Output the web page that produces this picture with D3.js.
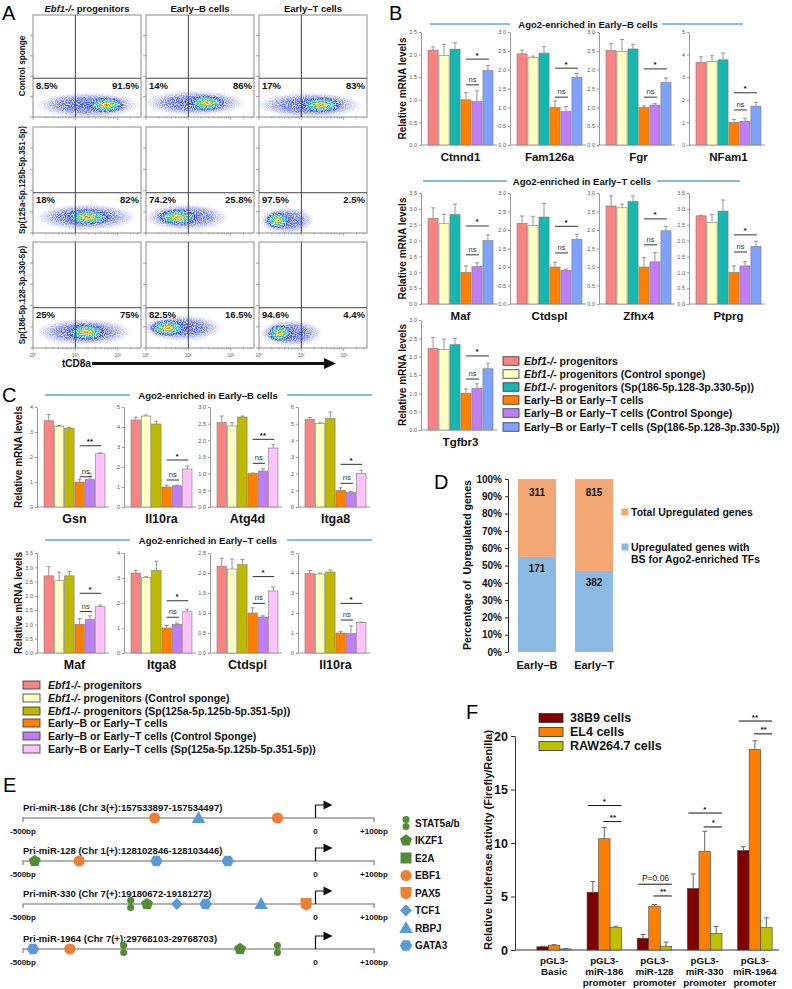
<!DOCTYPE html>
<html><head><meta charset="utf-8">
<script src="https://cdn.jsdelivr.net/npm/d3@7"></script>
<style>body{margin:0;background:#fff}svg{display:block}</style>
</head><body><script>
const FONT='"Liberation Sans", Arial, Helvetica, sans-serif';

// ================= DATA =================
// Panel A (flow cytometry)
const flowColItalic=["Ebf1-/-","",""];
const flowColText=[" progenitors","Early–B cells","Early–T cells"];
const flowRowLabels=["Control sponge","Sp(125a-5p.125b-5p.351-5p)","Sp(186-5p.128-3p.330-5p)"];
const flowPctLeft=[["8.5%","14%","17%"],["18%","74.2%","97.5%"],["25%","82.5%","94.6%"]];
const flowPctRight=[["91.5%","86%","83%"],["82%","25.8%","2.5%"],["75%","16.5%","4.4%"]];
const flowCoreX=[[1.73,1.43,1.46],[1.29,0.75,0.44],[1.26,0.52,0.49]];
const flowCoreSpread=[[0.45,0.45,0.5],[0.55,0.5,0.3],[0.5,0.45,0.3]];
const flowHaloX=[[1.3,1.15,1.2],[1.25,0.95,0.65],[1.2,0.85,0.75]];
const flowHaloSpread=[[1.25,1.2,1.25],[1.2,1.0,0.65],[1.15,0.95,0.75]];
const flowCloudY=[[118,137,118],[150,150,120],[150,190,140]];
const flowGateX=10, flowGateY=380;
const flowXTickVals=[1,10,100];
const flowXTickLabels=["10⁰","10¹","10²"];

// Panel B
const bTitles=["Ago2-enriched in Early–B cells","Ago2-enriched in Early–T cells"];
const bGenes=["Ctnnd1","Fam126a","Fgr","NFam1","Maf","Ctdspl","Zfhx4","Ptprg","Tgfbr3"];
const bMeans=[
 [2.10,1.98,2.12,1.00,0.96,1.65],
 [2.42,2.32,2.44,1.00,0.89,1.80],
 [2.51,2.48,2.55,1.00,1.06,1.66],
 [3.65,3.70,3.77,1.00,1.05,1.72],
 [2.70,2.53,2.82,1.00,1.18,2.00],
 [2.18,2.12,2.35,1.00,0.91,1.75],
 [2.65,2.60,2.77,1.00,1.14,1.98],
 [2.78,2.57,2.93,1.00,1.20,1.82],
 [2.22,2.20,2.33,1.00,1.14,1.67]];
const bErrors=[
 [0.07,0.25,0.14,0.16,0.24,0.11],
 [0.10,0.04,0.17,0.17,0.13,0.10],
 [0.18,0.32,0.12,0.04,0.04,0.12],
 [0.25,0.25,0.30,0.13,0.13,0.17],
 [0.33,0.30,0.33,0.20,0.12,0.18],
 [0.20,0.25,0.37,0.13,0.03,0.13],
 [0.27,0.10,0.15,0.25,0.25,0.12],
 [0.02,0.25,0.35,0.20,0.13,0.16],
 [0.30,0.28,0.17,0.12,0.12,0.15]];
const bYMax=[2.5,3,3,5,3.5,3,3,3.5,3];
const bYStep=[0.5,0.5,0.5,1,0.5,0.5,0.5,0.5,0.5];
const bSigText=["*","*","*","*","*","*","*","*","*"];
const bSigLevel=[1.90,2.04,2.02,2.31,2.46,2.10,2.30,2.18,2.02];
const bNsLevel=[1.33,1.27,1.27,1.55,1.55,1.38,1.60,1.64,1.39];
const bColors=["#f98383","#ffffc4","#15b7af","#ff8000","#c07ef6","#7fa2ff"];
const bLegendItalic=["Ebf1-/-","Ebf1-/-","Ebf1-/-","","",""];
const bLegendText=[" progenitors"," progenitors (Control sponge)"," progenitors (Sp(186-5p.128-3p.330-5p))","Early–B or Early–T cells","Early–B or Early–T cells (Control Sponge)","Early–B or Early–T cells (Sp(186-5p.128-3p.330-5p))"];

// Panel C
const cTitles=["Ago2-enriched in Early–B cells","Ago2-enriched in Early–T cells"];
const cGenes=["Gsn","Il10ra","Atg4d","Itga8","Maf","Itga8","Ctdspl","Il10ra"];
const cMeans=[
 [3.45,3.23,3.15,1.00,1.10,2.13],
 [4.35,4.55,4.15,1.00,1.06,1.90],
 [2.53,2.43,2.70,1.00,1.08,1.77],
 [5.25,5.00,5.30,1.00,0.87,2.02],
 [2.70,2.53,2.70,1.00,1.17,1.62],
 [3.20,3.03,3.30,1.00,1.15,1.65],
 [2.17,2.10,2.21,1.00,0.90,1.55],
 [3.97,3.95,4.05,1.00,0.97,1.52]];
const cErrors=[
 [0.25,0.03,0.03,0.12,0.25,0.04],
 [0.14,0.05,0.14,0.10,0.03,0.15],
 [0.20,0.10,0.03,0.02,0.07,0.10],
 [0.12,0.05,0.40,0.15,0.05,0.18],
 [0.32,0.30,0.15,0.20,0.13,0.06],
 [0.10,0.02,0.37,0.10,0.05,0.10],
 [0.20,0.25,0.13,0.13,0.03,0.10],
 [0.15,0.05,0.10,0.08,0.38,0.03]];
const cYMax=[4,5,3,6,3.5,4,2.5,5];
const cYStep=[1,1,0.5,1,0.5,1,0.5,1];
const cSigText=["**","*","**","*","*","*","*","*"];
const cSigLevel=[2.45,2.35,2.03,2.56,2.09,2.09,1.91,2.48];
const cNsLevel=[1.21,1.35,1.31,1.42,1.45,1.43,1.24,1.65];
const cColors=["#f98383","#ffffc4","#bdb900","#ff8000","#c07ef6","#ffc2fb"];
const cLegendItalic=["Ebf1-/-","Ebf1-/-","Ebf1-/-","","",""];
const cLegendText=[" progenitors"," progenitors (Control sponge)"," progenitors (Sp(125a-5p.125b-5p.351-5p))","Early–B or Early–T cells","Early–B or Early–T cells (Control Sponge)","Early–B or Early–T cells (Sp(125a-5p.125b-5p.351-5p))"];

// Panel D
const dGroups=["Early–B","Early–T"];
const dTotal=[311,815];
const dWithBS=[171,382];
const dColors=["#f3a775","#8dbae3"];
const dLegend=["Total Upregulated genes",["Upregulated genes with","BS for Ago2-enriched TFs"]];

// Panel E
const eTitles=["Pri-miR-186 (Chr 3(+):157533897-157534497)","Pri-miR-128 (Chr 1(+):128102846-128103446)","Pri-miR-330 (Chr 7(+):19180672-19181272)","Pri-miR-1964 (Chr 7(+):29768103-29768703)"];
const eSiteTF=[["EBF1","RBPJ","EBF1"],["IKZF1","EBF1","GATA3","GATA3"],["STAT5a/b","IKZF1","TCF1","GATA3","RBPJ","PAX5"],["GATA3","EBF1","STAT5a/b","IKZF1","STAT5a/b"]];
const eSiteBp=[[-275,-200,-65],[-480,-404,-272,-150],[-316,-288,-237,-188,-93,-16],[-483,-420,-328,-129,-65]];
const eTFs=["STAT5a/b","IKZF1","E2A","EBF1","PAX5","TCF1","RBPJ","GATA3"];
const eTFShapes=["dumbbell","pentagon","square","circle","shield","diamond","triangle","hexagon"];
const eTFColors=["#558a35","#558a35","#558a35","#ee7e33","#ee7e33","#5b9bd5","#5b9bd5","#5b9bd5"];
const eTickVals=[-500,0,100];
const eTickLabels=["-500bp","0","+100bp"];

// Panel F
const fGroupLabels=[["pGL3-","Basic"],["pGL3-","miR-186","promoter"],["pGL3-","miR-128","promoter"],["pGL3-","miR-330","promoter"],["pGL3-","miR-1964","promoter"]];
const fSeries=["38B9 cells","EL4 cells","RAW264.7 cells"];
const fColors=["#7f0000","#ff8000","#bfbf00"];
const fMeans38B9=[0.30,5.40,1.10,5.75,9.30];
const fErr38B9=[0.05,1.00,0.35,1.35,0.35];
const fMeansEL4=[0.45,10.40,4.10,9.20,18.75];
const fErrEL4=[0.05,1.05,0.15,1.90,0.80];
const fMeansRAW=[0.10,2.10,0.35,1.55,2.10];
const fErrRAW=[0.03,0.12,0.40,0.65,0.90];
const fYTicks=[0,5,10,15,20];
const fSigLongText=["","*","P=0.06","*","**"];
const fSigLongLevel=[0,13.5,6.15,12.8,21.4];
const fSigShortText=["","**","**","*","**"];
const fSigShortLevel=[0,12.0,5.05,11.5,20.2];

// ================= DRAWING =================
const svg=d3.select("body").append("svg").attr("width",792).attr("height",989)
  .style("font-family",FONT);
svg.append("rect").attr("width",792).attr("height",989).attr("fill","#fff");
const defs=svg.append("defs");

function grad(id,stops){
  const g=defs.append("radialGradient").attr("id",id);
  stops.forEach(s=>g.append("stop").attr("offset",s[0]).attr("stop-color",s[1]).attr("stop-opacity",s[2]));
}
grad("gCore",[[0,"#d8241c",1],[0.16,"#f2c81e",1],[0.36,"#4cbf3c",1],[0.58,"#1fc4de",0.95],[0.8,"#2a3cf0",0.85],[1,"#3040ff",0]]);
grad("gHalo",[[0,"#2236ee",0.95],[0.55,"#3146f2",0.7],[1,"#6a78ff",0]]);
const grain=defs.append("filter").attr("id","grain");
grain.append("feTurbulence").attr("type","fractalNoise").attr("baseFrequency",0.9).attr("numOctaves",1).attr("seed",4).attr("result","n");
grain.append("feColorMatrix").attr("in","n").attr("type","matrix")
  .attr("values","0 0 0 0 1  0 0 0 0 1  0 0 0 0 1  0 0 0 3.2 -0.9").attr("result","m");
grain.append("feComposite").attr("in","SourceGraphic").attr("in2","m").attr("operator","in");

function T(g,x,y,s,o={}){
  const t=g.append("text").attr("x",x).attr("y",y).text(s)
    .attr("font-size",o.size||10).attr("font-weight",o.weight||"bold")
    .attr("text-anchor",o.anchor||"start").attr("fill",o.fill||"#111");
  if(o.style) t.attr("font-style",o.style);
  return t;
}
function richT(g,x,y,ital,rest,o={}){
  const t=g.append("text").attr("x",x).attr("y",y).attr("font-size",o.size||10)
    .attr("font-weight","bold").attr("text-anchor",o.anchor||"start").attr("fill","#111");
  if(ital) t.append("tspan").attr("font-style","italic").text(ital);
  t.append("tspan").text(rest);
  return t;
}
function vText(g,x,y,s,size){
  return g.append("text").attr("transform",`translate(${x},${y}) rotate(-90)`)
    .attr("text-anchor","middle").attr("font-size",size).attr("font-weight","bold").attr("fill","#111").text(s);
}

// Panel letters
[["A",2,20],["B",389,20],["C",2,402],["D",434,489],["E",3,792],["F",466,719]].forEach(l=>
  T(svg,l[1],l[2],l[0],{size:20,weight:"normal",fill:"#000"}));

// ---------- Panel A ----------
const aColX=[33,146,259], aW=108, aRowY=[15,127,242], aRowH=[102,106,106];
const aG=svg.append("g");
flowColText.forEach((t,c)=>richT(aG,aColX[c]+aW/2,12,flowColItalic[c],t,{size:9.5,anchor:"middle"}));
flowRowLabels.forEach((lab,r)=>{
  const y0=aRowY[r], h=aRowH[r];
  vText(aG,25,y0+h/2,lab,8.2);
  flowColText.forEach((_,c)=>{
    const x0=aColX[c];
    const xs=d3.scaleLog().domain([1,Math.pow(10,2.55)]).range([x0,x0+aW]);
    const ys=d3.scaleLinear().domain([0,1000]).range([y0+h,y0]);
    const dec=xs(10)-xs(1);
    const clipId=`clipA${r}${c}`;
    defs.append("clipPath").attr("id",clipId).append("rect").attr("x",x0).attr("y",y0).attr("width",aW).attr("height",h);
    const cloud=aG.append("g").attr("clip-path",`url(#${clipId})`).append("g").attr("filter","url(#grain)");
    cloud.append("ellipse").attr("cx",xs(Math.pow(10,flowHaloX[r][c]))).attr("cy",ys(flowCloudY[r][c]))
      .attr("rx",flowHaloSpread[r][c]*dec).attr("ry",h*0.125).attr("fill","url(#gHalo)");
    cloud.append("ellipse").attr("cx",xs(Math.pow(10,flowCoreX[r][c]))).attr("cy",ys(flowCloudY[r][c]))
      .attr("rx",flowCoreSpread[r][c]*dec).attr("ry",h*0.08).attr("fill","url(#gCore)");
    aG.append("rect").attr("x",x0).attr("y",y0).attr("width",aW).attr("height",h)
      .attr("fill","none").attr("stroke","#8a8a8a").attr("stroke-width",1);
    aG.append("line").attr("x1",xs(flowGateX)).attr("x2",xs(flowGateX)).attr("y1",y0).attr("y2",y0+h).attr("stroke","#444");
    aG.append("line").attr("x1",x0).attr("x2",x0+aW).attr("y1",ys(flowGateY)).attr("y2",ys(flowGateY)).attr("stroke","#444");
    [0,200,400,600,800].forEach(v=>aG.append("line").attr("x1",x0-3).attr("x2",x0).attr("y1",ys(v)).attr("y2",ys(v)).attr("stroke","#777").attr("stroke-width",0.7));
    [1,10,100].forEach(p=>{
      for(let k=1;k<10;k++){const v=p*k; if(v>Math.pow(10,2.55)) break;
        aG.append("line").attr("x1",xs(v)).attr("x2",xs(v)).attr("y1",y0+h).attr("y2",y0+h+(k===1?3:1.5)).attr("stroke","#777").attr("stroke-width",0.6);}
    });
    if(r===2) flowXTickVals.forEach((v,i)=>T(aG,xs(v),y0+h+9,flowXTickLabels[i],{size:4.5,weight:"normal",anchor:"middle",fill:"#555"}));
    const ly=ys(flowGateY)+10.5;
    T(aG,x0+3,ly,flowPctLeft[r][c],{size:9.5});
    T(aG,x0+aW-2,ly,flowPctRight[r][c],{size:9.5,anchor:"end"});
  });
});
T(aG,62,367,"tCD8a",{size:10});
aG.append("line").attr("x1",92).attr("x2",326).attr("y1",363.5).attr("y2",363.5).attr("stroke","#111").attr("stroke-width",3);
aG.append("path").attr("d","M324,358 L336,363.5 L324,369 Z").attr("fill","#111");

// ---------- bar subplot helper ----------
function barPanel(g,o){
  const xb=d3.scaleBand().domain(d3.range(o.means.length)).range([o.x0,o.x0+o.w]).paddingInner(0.08);
  const y=d3.scaleLinear().domain([0,o.ymax]).range([o.yb,o.yt]);
  const axX=o.x0-7;
  const axis=d3.axisLeft(y).tickValues(d3.range(0,o.ymax+1e-9,o.step))
    .tickFormat(o.step<1?d3.format(".1f"):d3.format("d")).tickSize(2).tickSizeOuter(0).tickPadding(2);
  const ag=g.append("g").attr("transform",`translate(${axX},0)`).call(axis);
  ag.select(".domain").attr("stroke","#999");
  ag.selectAll(".tick line").attr("stroke","#999");
  ag.selectAll(".tick text").attr("font-size",5.5).attr("fill","#555").attr("font-family",FONT);
  g.append("line").attr("x1",axX).attr("x2",o.x0+o.w+4).attr("y1",o.yb).attr("y2",o.yb).attr("stroke","#999");
  g.selectAll(null).data(o.means).join("rect")
    .attr("x",(d,i)=>xb(i)).attr("width",xb.bandwidth()).attr("y",d=>y(d)).attr("height",d=>o.yb-y(d))
    .attr("fill",(d,i)=>o.colors[i]).attr("stroke","#7d7d7d").attr("stroke-width",0.6);
  const cx=i=>xb(i)+xb.bandwidth()/2;
  o.means.forEach((m,i)=>{
    const y1=y(m), y2=y(m+o.errs[i]);
    g.append("line").attr("x1",cx(i)).attr("x2",cx(i)).attr("y1",y1).attr("y2",y2).attr("stroke","#8a8a8a").attr("stroke-width",0.9);
    g.append("line").attr("x1",cx(i)-2).attr("x2",cx(i)+2).attr("y1",y2).attr("y2",y2).attr("stroke","#8a8a8a").attr("stroke-width",0.9);
  });
  g.append("line").attr("x1",cx(3)).attr("x2",cx(5)+1).attr("y1",y(o.sig)).attr("y2",y(o.sig)).attr("stroke","#333");
  T(g,(cx(3)+cx(5))/2,y(o.sig)-1.5,o.sigText,{size:8,anchor:"middle"});
  g.append("line").attr("x1",cx(3)).attr("x2",cx(4)+2).attr("y1",y(o.ns)).attr("y2",y(o.ns)).attr("stroke","#333");
  T(g,(cx(3)+cx(4)+2)/2,y(o.ns)-3,"ns",{size:7.5,weight:"normal",anchor:"middle",fill:"#333"});
  T(g,o.x0+o.w/2,o.yb+15.5,o.gene,{size:o.labelSize||11.5,anchor:"middle"});
}
function titleBar(g,cx,cy,text,l1,l2,r1,r2){
  g.append("line").attr("x1",l1).attr("x2",l2).attr("y1",cy).attr("y2",cy).attr("stroke","#5aa8e4").attr("stroke-width",1.3);
  g.append("line").attr("x1",r1).attr("x2",r2).attr("y1",cy).attr("y2",cy).attr("stroke","#5aa8e4").attr("stroke-width",1.3);
  T(g,cx,cy+3.5,text,{size:9.5,anchor:"middle"});
}
function legend(g,x,ys,bw,bh,tx,ital,texts,colors,size){
  ys.forEach((yy,i)=>{
    g.append("rect").attr("x",x).attr("y",yy-bh/2).attr("width",bw).attr("height",bh)
      .attr("fill",colors[i]).attr("stroke","#333").attr("stroke-width",0.8);
    richT(g,tx,yy+size*0.36,ital[i],texts[i],{size:size});
  });
}

// ---------- Panel B ----------
const bG=svg.append("g");
titleBar(bG,588,24,bTitles[0],430,510,662,743);
titleBar(bG,582,181,bTitles[1],423,507,657,740);
const bStarts=[428,517,606,696];
const bRowBase=[145,304,430], bRowTop=[32,193,320];
bGenes.forEach((gname,i)=>{
  const row=Math.floor(i/4), col=i%4;
  barPanel(bG,{x0:bStarts[col],w:65,yb:bRowBase[row],yt:bRowTop[row],ymax:bYMax[i],step:bYStep[i],
    means:bMeans[i],errs:bErrors[i],colors:bColors,gene:gname,sigText:bSigText[i],sig:bSigLevel[i],ns:bNsLevel[i],labelSize:11.5});
});
[0,1,2].forEach(r=>vText(bG,406,(bRowBase[r]+bRowTop[r])/2,"Relative mRNA levels",10));
legend(bG,503,[361,374,387,400,413,427],16,8.5,524,bLegendItalic,bLegendText,bColors,10.5);

// ---------- Panel C ----------
const cG=svg.append("g");
titleBar(cG,208,395,cTitles[0],45,130,287,372);
titleBar(cG,208,540,cTitles[1],45,130,287,372);
const cStarts=[44,131,217,305];
const cRowBase=[507,653], cRowTop=[407,553];
cGenes.forEach((gname,i)=>{
  const row=Math.floor(i/4), col=i%4;
  barPanel(cG,{x0:cStarts[col],w:61,yb:cRowBase[row],yt:cRowTop[row],ymax:cYMax[i],step:cYStep[i],
    means:cMeans[i],errs:cErrors[i],colors:cColors,gene:gname,sigText:cSigText[i],sig:cSigLevel[i],ns:cNsLevel[i],labelSize:12.5});
});
[0,1].forEach(r=>vText(cG,22,(cRowBase[r]+cRowTop[r])/2,"Relative mRNA levels",10));
legend(cG,23,[685,698,711,723,736,749],17,8,48,cLegendItalic,cLegendText,cColors,10.5);

// ---------- Panel D ----------
const dG=svg.append("g");
const dY=d3.scaleLinear().domain([0,1]).range([652,479]);
const dX=d3.scaleBand().domain(dGroups).range([499,632]).paddingInner(1/3).paddingOuter(1/3);
const dAx=dG.append("g").attr("transform","translate(508,0)")
  .call(d3.axisLeft(dY).tickValues(d3.range(0,1.0001,0.1)).tickFormat(d3.format(".0%")).tickSize(3).tickSizeOuter(0).tickPadding(3));
dAx.select(".domain").attr("stroke","#222");
dAx.selectAll(".tick line").attr("stroke","#222");
dAx.selectAll(".tick text").attr("font-size",10).attr("font-weight","bold").attr("fill","#111").attr("font-family",FONT);
dGroups.forEach((gname,i)=>{
  const frac=dWithBS[i]/dTotal[i], x=dX(gname), bw=dX.bandwidth();
  dG.append("rect").attr("x",x).attr("width",bw).attr("y",dY(frac)).attr("height",dY(0)-dY(frac)).attr("fill",dColors[1]);
  dG.append("rect").attr("x",x).attr("width",bw).attr("y",dY(1)).attr("height",dY(frac)-dY(1)).attr("fill",dColors[0]);
  T(dG,x+bw/2,dY(1)+17,String(dTotal[i]),{size:10,anchor:"middle"});
  T(dG,x+bw/2,dY(frac)+15.5,String(dWithBS[i]),{size:10,anchor:"middle"});
  T(dG,x+bw/2,669,gname,{size:11,anchor:"middle"});
});
vText(dG,471,565,"Percentage of  Upregulated genes",10.5).style("white-space","pre");
dG.append("rect").attr("x",621.5).attr("y",508.5).attr("width",7).attr("height",7).attr("fill",dColors[0]);
T(dG,631,516,dLegend[0],{size:10.5});
dG.append("rect").attr("x",621.5).attr("y",543.5).attr("width",7).attr("height",7).attr("fill",dColors[1]);
T(dG,631,551,dLegend[1][0],{size:10.5});
T(dG,631,563,dLegend[1][1],{size:10.5});

// ---------- Panel E ----------
const eG=svg.append("g");
const eX=d3.scaleLinear().domain([-500,100]).range([23,374]);
const eLineY=[818,861,904,949];
function shape(g,s,x,y,col){
  const poly=(n,r,rot)=>d3.range(n).map(k=>{const a=rot+k*2*Math.PI/n;return [x+r*Math.cos(a),y+r*Math.sin(a)];});
  const P=pts=>"M"+pts.map(p=>p.join(",")).join("L")+"Z";
  if(s==="circle") g.append("circle").attr("cx",x).attr("cy",y).attr("r",5.6).attr("fill",col);
  else if(s==="dumbbell"){
    g.append("circle").attr("cx",x).attr("cy",y-3.4).attr("r",3.5).attr("fill",col);
    g.append("circle").attr("cx",x).attr("cy",y+3.4).attr("r",3.5).attr("fill",col);
  }
  else if(s==="pentagon") g.append("path").attr("d",P(poly(5,6.3,-Math.PI/2))).attr("fill",col);
  else if(s==="square") g.append("rect").attr("x",x-5.5).attr("y",y-5.5).attr("width",11).attr("height",11).attr("fill",col);
  else if(s==="shield") g.append("path").attr("d",`M${x-5.5},${y-6} H${x+5.5} V${y+1} Q${x+5.5},${y+5} ${x},${y+6.5} Q${x-5.5},${y+5} ${x-5.5},${y+1} Z`).attr("fill",col);
  else if(s==="diamond") g.append("path").attr("d",P(poly(4,6,0))).attr("fill",col);
  else if(s==="triangle") g.append("path").attr("d",`M${x},${y-7} L${x+6.8},${y+5} L${x-6.8},${y+5} Z`).attr("fill",col);
  else if(s==="hexagon") g.append("path").attr("d",P(poly(6,6.2,0))).attr("fill",col);
}
eTitles.forEach((t,i)=>{
  const ly=eLineY[i];
  T(eG,23,ly-7.5,t,{size:9.5});
  eG.append("line").attr("x1",eX(-500)).attr("x2",eX(100)).attr("y1",ly).attr("y2",ly).attr("stroke","#666").attr("stroke-width",1);
  [-500,100].forEach(v=>eG.append("line").attr("x1",eX(v)).attr("x2",eX(v)).attr("y1",ly-0.5).attr("y2",ly+4).attr("stroke","#666"));
  const x0=eX(0);
  eG.append("path").attr("d",`M${x0},${ly} V${ly-13} H${x0+9}`).attr("fill","none").attr("stroke","#111").attr("stroke-width",1.2);
  eG.append("path").attr("d",`M${x0+8},${ly-17.5} L${x0+17},${ly-13} L${x0+8},${ly-8.5} Z`).attr("fill","#111");
  eTickVals.forEach((v,k)=>T(eG,eX(v),ly+16,eTickLabels[k],{size:8,anchor:"middle"}));
  eSiteTF[i].forEach((tf,k)=>{
    const ti=eTFs.indexOf(tf);
    shape(eG,eTFShapes[ti],eX(eSiteBp[i][k]),ly,eTFColors[ti]);
  });
});
eTFs.forEach((tf,i)=>{
  const yy=823+i*17.5;
  shape(eG,eTFShapes[i],406,yy,eTFColors[i]);
  T(eG,415,yy+3.6,tf,{size:10});
});

// ---------- Panel F ----------
const fG=svg.append("g");
const fY=d3.scaleLinear().domain([0,20]).range([950,736]);
const fX=d3.scaleBand().domain(d3.range(fGroupLabels.length)).range([529,780]);
const fSub=d3.scaleBand().domain([0,1,2]).range([-17.25,17.25]);
const fAx=fG.append("g").attr("transform","translate(515,0)")
  .call(d3.axisLeft(fY).tickValues(fYTicks).tickSize(4).tickSizeOuter(0).tickPadding(3));
fAx.select(".domain").attr("stroke","#333");
fAx.selectAll(".tick line").attr("stroke","#333");
fAx.selectAll(".tick text").attr("font-size",12.5).attr("font-weight","bold").attr("fill","#111").attr("font-family",FONT);
fG.append("line").attr("x1",515).attr("x2",779).attr("y1",950).attr("y2",950).attr("stroke","#333");
const fAllMeans=[fMeans38B9,fMeansEL4,fMeansRAW], fAllErr=[fErr38B9,fErrEL4,fErrRAW];
fGroupLabels.forEach((lines,gi)=>{
  const cx=fX(gi)+fX.bandwidth()/2;
  fAllMeans.forEach((arr,s)=>{
    const x=cx+fSub(s), bw=fSub.bandwidth(), v=arr[gi], e=fAllErr[s][gi];
    fG.append("rect").attr("x",x).attr("width",bw).attr("y",fY(v)).attr("height",950-fY(v))
      .attr("fill",fColors[s]).attr("stroke","#444").attr("stroke-width",0.6);
    fG.append("line").attr("x1",x+bw/2).attr("x2",x+bw/2).attr("y1",fY(v)).attr("y2",fY(v+e)).attr("stroke","#666");
    fG.append("line").attr("x1",x+bw/2-2.5).attr("x2",x+bw/2+2.5).attr("y1",fY(v+e)).attr("y2",fY(v+e)).attr("stroke","#666");
  });
  lines.forEach((l,k)=>T(fG,cx,963.5+k*11,l,{size:9.8,anchor:"middle"}));
  if(fSigLongText[gi]){
    const b0=cx+fSub(0), b1=cx+fSub(1)+fSub.bandwidth()/2, b2=cx+fSub(2)+fSub.bandwidth();
    const yl=fY(fSigLongLevel[gi]), ys=fY(fSigShortLevel[gi]);
    fG.append("line").attr("x1",b0+1).attr("x2",b2).attr("y1",yl).attr("y2",yl).attr("stroke","#111");
    fG.append("line").attr("x1",b1-1).attr("x2",b2).attr("y1",ys).attr("y2",ys).attr("stroke","#111");
    const lt=fSigLongText[gi];
    T(fG,(b0+b2)/2+(lt.length>2?1:0),yl-(lt.length>2?3:1.5),lt,{size:lt.length>2?8.5:8,weight:lt.length>2?"normal":"bold",anchor:"middle"});
    T(fG,(b1+b2)/2,ys-1.5,fSigShortText[gi],{size:8,anchor:"middle"});
  }
});
vText(fG,492,840,"Relative luciferase activity (Firefly/Renilla)",11);
fSeries.forEach((s,i)=>{
  const yy=718+i*14;
  fG.append("rect").attr("x",539).attr("y",yy-4.5).attr("width",24).attr("height",9).attr("fill",fColors[i]).attr("stroke","#333").attr("stroke-width",0.8);
  T(fG,570,yy+4.3,s,{size:12.5});
});
</script></body></html>
